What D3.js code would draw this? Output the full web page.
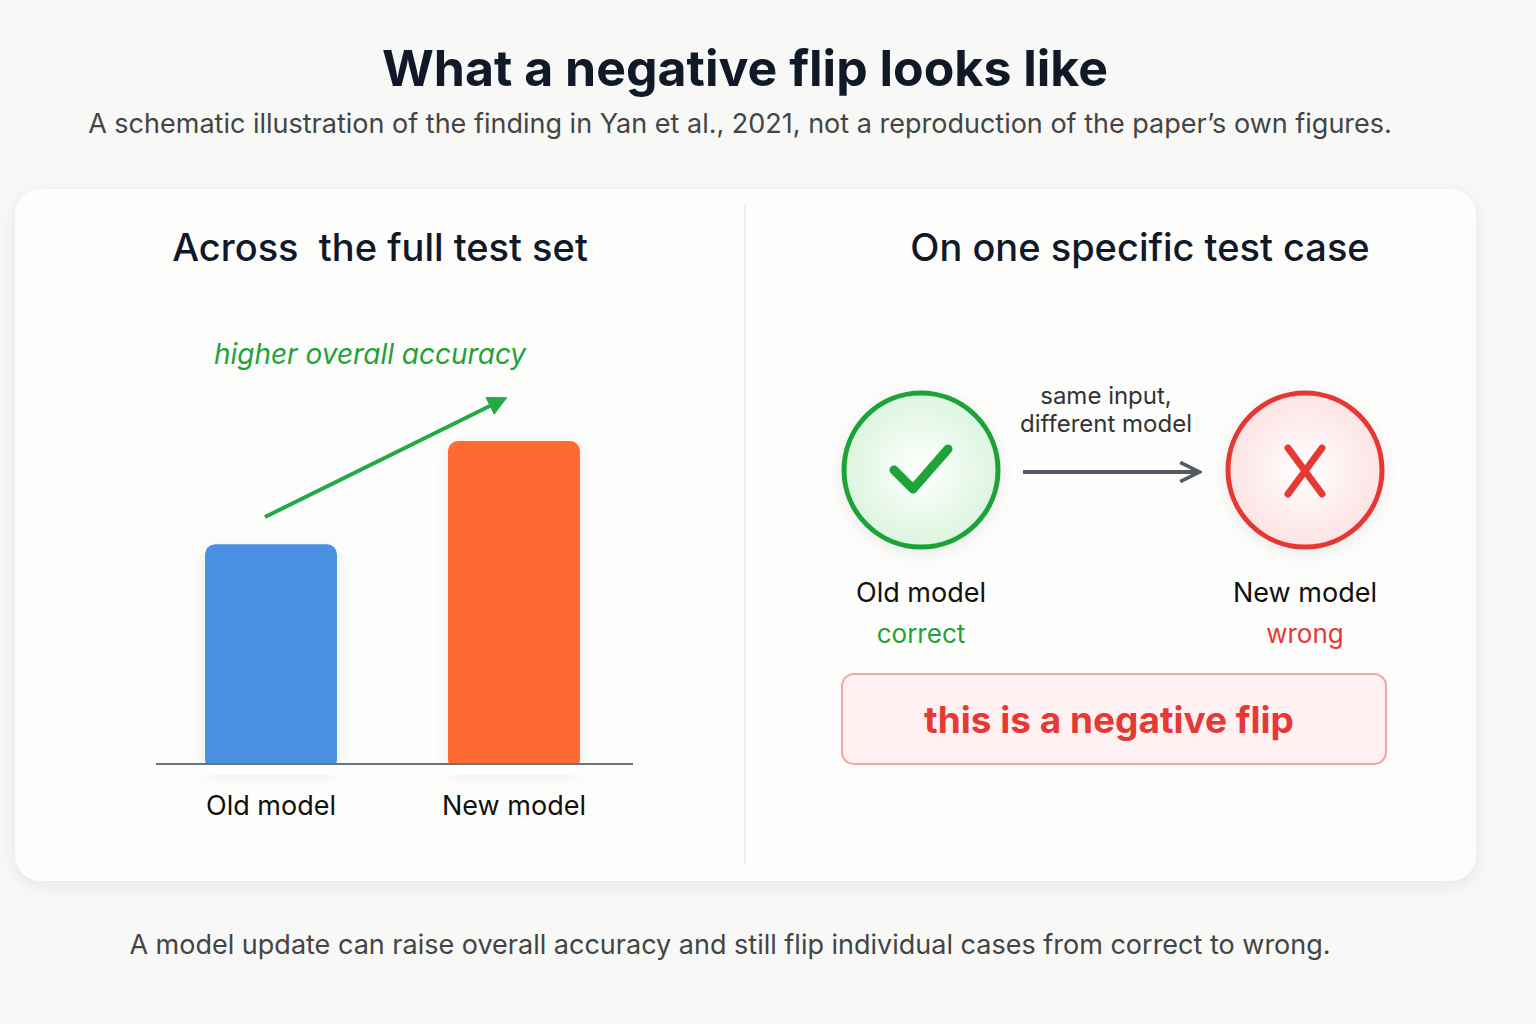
<!DOCTYPE html>
<html><head><meta charset="utf-8">
<script src="https://cdn.jsdelivr.net/npm/d3@7"></script>
<style>body{margin:0;background:#f8f8f7;font-family:Inter,"Noto Sans",sans-serif}</style>
</head><body><div id="chart"></div>
<script>
var models = ["Old model", "New model"];
var accuracy = [68, 100];
var barColors = ["#4a90e2", "#ff6a30"];
var caseOutcome = ["correct", "wrong"];
var outcomeColors = ["#1fa339", "#e53935"];

var svg = d3.select("#chart").append("svg").attr("width", 1536).attr("height", 1024);
var defs = svg.append("defs");
var f = defs.append("filter").attr("id", "shadow").attr("x", "-10%").attr("y", "-10%").attr("width", "120%").attr("height", "130%");
f.append("feDropShadow").attr("dx", 0).attr("dy", 4).attr("stdDeviation", 8).attr("flood-color", "#000").attr("flood-opacity", 0.08);
var g1 = defs.append("radialGradient").attr("id", "gGreen");
g1.append("stop").attr("offset", "0%").attr("stop-color", "#ffffff");
g1.append("stop").attr("offset", "100%").attr("stop-color", "#dcf5df");
var g2 = defs.append("radialGradient").attr("id", "gRed");
g2.append("stop").attr("offset", "0%").attr("stop-color", "#ffffff");
g2.append("stop").attr("offset", "100%").attr("stop-color", "#fde3e3");
defs.append("marker").attr("id", "arrGreen").attr("viewBox", "0 0 10 10").attr("refX", 8).attr("refY", 5)
  .attr("markerWidth", 5).attr("markerHeight", 5).attr("orient", "auto")
  .append("path").attr("d", "M0,0L10,5L0,10z").attr("fill", "#22aa44");
defs.append("marker").attr("id", "arrGray").attr("viewBox", "0 0 10 10").attr("refX", 8).attr("refY", 5)
  .attr("markerWidth", 6).attr("markerHeight", 6).attr("orient", "auto")
  .append("path").attr("d", "M1,1L9,5L1,9").attr("fill", "none").attr("stroke", "#555b63").attr("stroke-width", 1.5);

// titles
svg.append("text").attr("x", 745).attr("y", 86).attr("text-anchor", "middle")
  .attr("font-size", 50).attr("font-weight", 700).attr("fill", "#111827").text("What a negative flip looks like");
svg.append("text").attr("x", 740).attr("y", 133).attr("text-anchor", "middle")
  .attr("font-size", 27).attr("fill", "#444").text("A schematic illustration of the finding in Yan et al., 2021, not a reproduction of the paper\u2019s own figures.");

// card
svg.append("rect").attr("x", 15).attr("y", 189).attr("width", 1461).attr("height", 692).attr("rx", 26)
  .attr("fill", "#fdfdfc").attr("filter", "url(#shadow)");
svg.append("line").attr("x1", 745).attr("x2", 745).attr("y1", 205).attr("y2", 865).attr("stroke", "#eeeeee").attr("stroke-width", 2);

// left panel
svg.append("text").attr("x", 380).attr("y", 261).attr("text-anchor", "middle")
  .attr("font-size", 38).attr("font-weight", 500).attr("fill", "#111827").attr("xml:space", "preserve").text("Across  the full test set");

var x = d3.scaleBand().domain(models).range([150, 635]).paddingInner(0.457).paddingOuter(0.2265);
var y = d3.scaleLinear().domain([0, 100]).range([764, 441]);

svg.selectAll("rect.bar").data(models).enter().append("rect").attr("class", "bar")
  .attr("x", d => x(d)).attr("y", (d, i) => y(accuracy[i]))
  .attr("width", x.bandwidth()).attr("height", (d, i) => y(0) - y(accuracy[i]) + 6)
  .attr("rx", 10).attr("fill", (d, i) => barColors[i]).attr("filter", "url(#shadow)");
svg.append("line").attr("x1", 156).attr("x2", 633).attr("y1", y(0)).attr("y2", y(0)).attr("stroke", "#6b7280").attr("stroke-width", 2);
svg.append("rect").attr("x", 156).attr("y", y(0) + 1).attr("width", 480).attr("height", 10).attr("fill", "#fdfdfc");
svg.selectAll("text.xl").data(models).enter().append("text").attr("class", "xl")
  .attr("x", d => x(d) + x.bandwidth() / 2).attr("y", 815).attr("text-anchor", "middle")
  .attr("font-size", 27).attr("fill", "#111").text(d => d);

svg.append("line").attr("x1", 265).attr("y1", 517).attr("x2", 504).attr("y2", 399)
  .attr("stroke", "#22aa44").attr("stroke-width", 4).attr("marker-end", "url(#arrGreen)");
svg.append("text").attr("x", 370).attr("y", 364).attr("text-anchor", "middle").attr("font-style", "italic")
  .attr("font-size", 28).attr("fill", "#1fa339").text("higher overall accuracy");

// right panel
svg.append("text").attr("x", 1140).attr("y", 261).attr("text-anchor", "middle")
  .attr("font-size", 38).attr("font-weight", 500).attr("fill", "#111827").text("On one specific test case");

var cx = d3.scalePoint().domain(models).range([921, 1305]);
svg.selectAll("circle.case").data(models).enter().append("circle").attr("class", "case")
  .attr("cx", d => cx(d)).attr("cy", 470).attr("r", 77)
  .attr("fill", (d, i) => i ? "url(#gRed)" : "url(#gGreen)")
  .attr("stroke", (d, i) => outcomeColors[i]).attr("stroke-width", 5).attr("filter", "url(#shadow)");
svg.append("path").attr("d", `M${cx("Old model") - 27},470 L${cx("Old model") - 8},489 L${cx("Old model") + 27},449`)
  .attr("fill", "none").attr("stroke", "#1fa339").attr("stroke-width", 9).attr("stroke-linecap", "round").attr("stroke-linejoin", "round");
svg.append("path").attr("d", `M${cx("New model") - 17},448 L${cx("New model") + 17},494 M${cx("New model") + 17},448 L${cx("New model") - 17},494`)
  .attr("fill", "none").attr("stroke", "#e53935").attr("stroke-width", 7).attr("stroke-linecap", "round");

svg.append("line").attr("x1", 1023).attr("x2", 1197).attr("y1", 472).attr("y2", 472)
  .attr("stroke", "#555b63").attr("stroke-width", 4).attr("marker-end", "url(#arrGray)");
svg.append("text").attr("x", 1106).attr("y", 404).attr("text-anchor", "middle").attr("font-size", 24).attr("fill", "#333").text("same input,");
svg.append("text").attr("x", 1106).attr("y", 432).attr("text-anchor", "middle").attr("font-size", 24).attr("fill", "#333").text("different model");

svg.selectAll("text.cm").data(models).enter().append("text").attr("class", "cm")
  .attr("x", d => cx(d)).attr("y", 602).attr("text-anchor", "middle").attr("font-size", 27).attr("fill", "#111").text(d => d);
svg.selectAll("text.co").data(caseOutcome).enter().append("text").attr("class", "co")
  .attr("x", (d, i) => cx(models[i])).attr("y", 643).attr("text-anchor", "middle").attr("font-size", 26)
  .attr("fill", (d, i) => outcomeColors[i]).text(d => d);

svg.append("rect").attr("x", 842).attr("y", 674).attr("width", 544).attr("height", 90).attr("rx", 12)
  .attr("fill", "#fff1f1").attr("stroke", "#f3a5a5").attr("stroke-width", 2);
svg.append("text").attr("x", 1109).attr("y", 733).attr("text-anchor", "middle").attr("font-size", 37)
  .attr("font-weight", 700).attr("fill", "#e53935").text("this is a negative flip");

svg.append("text").attr("x", 730).attr("y", 954).attr("text-anchor", "middle").attr("font-size", 27).attr("fill", "#444")
  .text("A model update can raise overall accuracy and still flip individual cases from correct to wrong.");
</script></body></html>
